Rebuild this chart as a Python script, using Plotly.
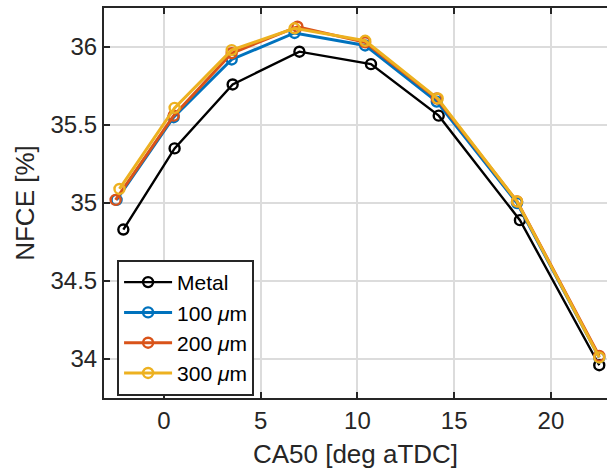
import plotly.graph_objects as go

# Data
x_metal = [-2.1, 0.55, 3.55, 7.0, 10.7, 14.2, 18.4, 22.5]
y_metal = [34.83, 35.35, 35.76, 35.97, 35.89, 35.56, 34.89, 33.96]

x_100 = [-2.45, 0.5, 3.5, 6.75, 10.4, 14.1, 18.25, 22.5]
y_100 = [35.02, 35.55, 35.92, 36.09, 36.01, 35.65, 35.00, 34.01]

x_200 = [-2.5, 0.5, 3.5, 6.9, 10.4, 14.1, 18.25, 22.5]
y_200 = [35.02, 35.56, 35.96, 36.13, 36.03, 35.67, 35.01, 34.02]

x_300 = [-2.3, 0.55, 3.5, 6.75, 10.4, 14.15, 18.25, 22.5]
y_300 = [35.09, 35.61, 35.98, 36.12, 36.04, 35.67, 35.01, 34.01]

names = ["Metal", "100 <i>μ</i>m", "200 <i>μ</i>m", "300 <i>μ</i>m"]
colors = ["#000000", "#0072BD", "#D95319", "#EDB120"]
widths = [2.4, 3, 3, 3]

x_ticks = [0, 5, 10, 15, 20]
y_ticks = [34, 34.5, 35, 35.5, 36]
y_ticklabels = ["34", "34.5", "35", "35.5", "36"]

series = [(x_metal, y_metal), (x_100, y_100), (x_200, y_200), (x_300, y_300)]

fig = go.Figure()
for (xs, ys), n, c, w in zip(series, names, colors, widths):
    fig.add_trace(go.Scatter(
        x=xs, y=ys, name=n, mode="lines+markers",
        line=dict(color=c, width=w),
        marker=dict(symbol="circle-open", size=10, color=c, line=dict(width=2.4, color=c)),
    ))

font_family = "Liberation Sans, Arial, sans-serif"
tick_color = "#262626"

fig.update_layout(
    width=607, height=476,
    margin=dict(l=104, r=0, t=8, b=78),
    paper_bgcolor="white", plot_bgcolor="white",
    font=dict(family=font_family, size=24, color=tick_color),
    showlegend=True,
    legend=dict(
        x=0.026, y=0.354, xanchor="left", yanchor="top",
        bgcolor="white", bordercolor="#262626", borderwidth=2,
        font=dict(size=21, color="#000000"),
        tracegroupgap=0, itemwidth=48,
    ),
    xaxis=dict(
        range=[-3.1, 22.9], tickvals=x_ticks,
        showgrid=True, gridcolor="#dcdcdc", gridwidth=2,
        showline=True, linecolor="#262626", linewidth=2, mirror="ticks",
        ticks="inside", ticklen=6, tickwidth=2, tickcolor="#262626",
        zeroline=False,
        title=dict(text="CA50 [deg aTDC]", standoff=12, font=dict(size=26, color=tick_color)),
        tickfont=dict(size=24, color=tick_color),
    ),
    yaxis=dict(
        range=[33.75, 36.25], tickvals=y_ticks, ticktext=y_ticklabels,
        showgrid=True, gridcolor="#dcdcdc", gridwidth=2,
        showline=True, linecolor="#262626", linewidth=2, mirror=False,
        ticks="inside", ticklen=6, tickwidth=2, tickcolor="#262626",
        zeroline=False,
        title=dict(text="NFCE [%]", standoff=8, font=dict(size=26, color=tick_color)),
        tickfont=dict(size=24, color=tick_color),
    ),
)

fig.write_html("out.html")
